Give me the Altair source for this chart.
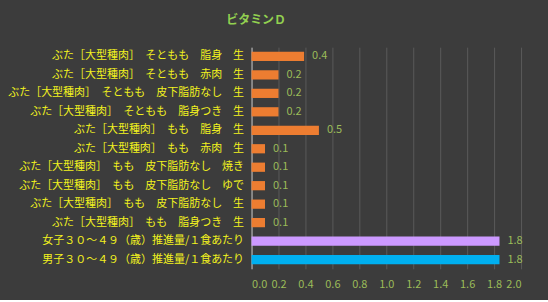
import altair as alt
import pandas as pd

categories = [
    "ぶた［大型種肉］　そともも　脂身　生",
    "ぶた［大型種肉］　そともも　赤肉　生",
    "ぶた［大型種肉］　そともも　皮下脂肪なし　生",
    "ぶた［大型種肉］　そともも　脂身つき　生",
    "ぶた［大型種肉］　もも　脂身　生",
    "ぶた［大型種肉］　もも　赤肉　生",
    "ぶた［大型種肉］　もも　皮下脂肪なし　焼き",
    "ぶた［大型種肉］　もも　皮下脂肪なし　ゆで",
    "ぶた［大型種肉］　もも　皮下脂肪なし　生",
    "ぶた［大型種肉］　もも　脂身つき　生",
    "女子３０～４９（歳）推進量/１食あたり",
    "男子３０～４９（歳）推進量/１食あたり",
]
values = [0.39, 0.2, 0.2, 0.2, 0.5, 0.1, 0.1, 0.1, 0.1, 0.1, 1.84, 1.84]
groups = ["food"] * 10 + ["female", "male"]
group_colors = {"food": "#ED7D31", "female": "#CC99FF", "male": "#00B0F0"}
x_ticks = [0, 0.2, 0.4, 0.6, 0.8, 1.0, 1.2, 1.4, 1.6, 1.8, 2.0]

df = pd.DataFrame({"name": categories, "value": values, "group": groups})

FONT = "Noto Sans CJK JP"

y_axis = alt.Axis(
    labelColor="#F2F21E",
    labelFont=FONT,
    labelFontSize=11,
    labelPadding=8,
    ticks=False,
    domain=True,
    domainColor="#BFBFBF",
    labelLimit=400,
)
x_axis = alt.Axis(
    values=x_ticks,
    format=".1f",
    labelColor="#9BBB59",
    labelFont=FONT,
    labelFontSize=11,
    labelPadding=10,
    labelOverlap=False,
    ticks=False,
    domain=False,
    grid=True,
    gridColor="#5A5A5A",
    gridWidth=1,
)
y_scale = alt.Scale(paddingInner=0.5, paddingOuter=0.25)
x_scale = alt.Scale(domain=[0, 2.0])


def yenc():
    return alt.Y("name:N", sort=categories, title=None, scale=y_scale, axis=y_axis)


def xenc():
    return alt.X("value:Q", title=None, scale=x_scale, axis=x_axis)


bars = alt.Chart(df).mark_bar().encode(
    y=yenc(),
    x=xenc(),
    color=alt.Color(
        "group:N",
        scale=alt.Scale(domain=list(group_colors.keys()), range=list(group_colors.values())),
        legend=None,
    ),
)

labels = alt.Chart(df).mark_text(
    align="left", dx=8, color="#9BBB59", font=FONT, fontSize=11
).encode(
    y=yenc(),
    x=xenc(),
    text=alt.Text("value:Q", format=".1f"),
)

chart = (
    alt.layer(bars, labels)
    .properties(
        width=270,
        height=222,
        background="#3C3C3C",
        title=alt.TitleParams(
            "ビタミンＤ",
            color="#92D050",
            font=FONT,
            fontSize=12,
            fontWeight="bold",
            offset=20,
            frame="bounds",
            dx=-9,
        ),
        padding={"left": 7, "right": 25, "top": 14, "bottom": 10},
    )
    .configure_view(stroke=None)
)

chart.save("out.html", embed_options={"renderer": "svg", "actions": False})
